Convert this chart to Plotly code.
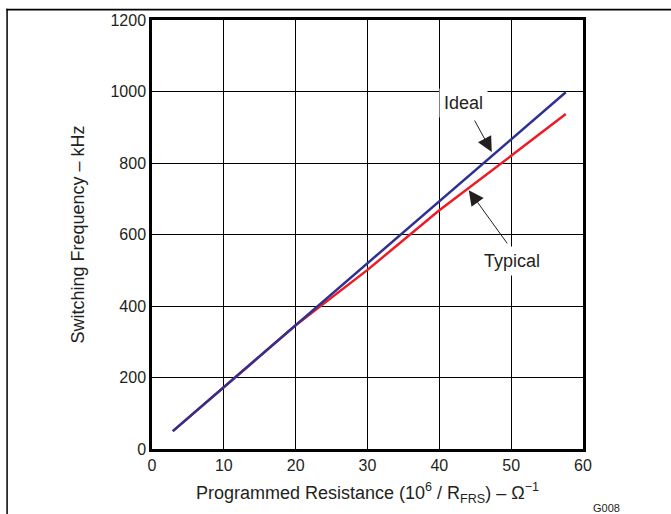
import plotly.graph_objects as go

# Data
x_ideal = [2.9, 57.6]
y_ideal = [50, 998]
x_typical = [2.9, 10, 20, 30, 40, 50, 57.6]
y_typical = [50, 173, 346, 501, 668, 820, 937]

x_ticks = [0, 10, 20, 30, 40, 50, 60]
y_ticks = [0, 200, 400, 600, 800, 1000, 1200]

FONT = "Liberation Sans, Arial, Helvetica, sans-serif"
TXT = "#231F20"

fig = go.Figure()
fig.add_trace(go.Scatter(x=x_typical, y=y_typical, mode="lines",
                         line=dict(color="#ED1C24", width=2.5), showlegend=False))
fig.add_trace(go.Scatter(x=x_ideal, y=y_ideal, mode="lines",
                         line=dict(color="#2E3192", width=2.5), showlegend=False))

axis_common = dict(showgrid=True, gridcolor="black", gridwidth=1,
                   showline=True, linecolor="black", linewidth=2.5, mirror=True,
                   ticks="", zeroline=False,
                   tickfont=dict(family=FONT, size=16, color=TXT))

fig.update_xaxes(range=[0, 60], tickvals=x_ticks, **axis_common,
                 title=dict(text="Programmed Resistance (10<sup>6</sup> / R<sub>FRS</sub>) – Ω<sup>−1</sup>",
                            font=dict(family=FONT, size=18, color=TXT), standoff=14))
fig.update_yaxes(range=[0, 1200], tickvals=y_ticks, **axis_common,
                 title=dict(text="Switching Frequency – kHz",
                            font=dict(family=FONT, size=18, color=TXT), standoff=22))

# Text labels with white background (break the grid)
fig.add_annotation(x=43.3, y=968, text="Ideal", showarrow=False, bgcolor="white",
                   font=dict(family=FONT, size=18, color=TXT), borderpad=4)
fig.add_annotation(x=50.1, y=526, text="Typical", showarrow=False, bgcolor="white",
                   font=dict(family=FONT, size=18, color=TXT), borderpad=4)
# Arrows
fig.add_annotation(x=47.3, y=831, ax=44.8, ay=923, axref="x", ayref="y", text="",
                   showarrow=True, arrowhead=2, arrowsize=3, arrowwidth=1,
                   arrowcolor=TXT, standoff=0)
fig.add_annotation(x=44.1, y=724, ax=49.6, ay=571, axref="x", ayref="y", text="",
                   showarrow=True, arrowhead=2, arrowsize=3, arrowwidth=1,
                   arrowcolor=TXT, standoff=0)

fig.add_annotation(x=1.055, y=-0.137, xref="paper", yref="paper", text="G008",
                   showarrow=False, xanchor="center", yanchor="middle",
                   font=dict(family=FONT, size=11, color=TXT))

# Frame around the figure: left edge and top edge as thin filled bars
fig.add_shape(type="rect", xref="paper", yref="paper",
              x0=-0.338, x1=-0.3345, y0=-0.2, y1=1.026,
              line=dict(width=0), fillcolor="black", layer="above")
fig.add_shape(type="rect", xref="paper", yref="paper",
              x0=-0.338, x1=1.3, y0=1.022, y1=1.026,
              line=dict(width=0), fillcolor="black", layer="above")

fig.update_layout(width=671, height=514, margin=dict(l=152, r=88, t=20, b=65),
                  paper_bgcolor="white", plot_bgcolor="white",
                  font=dict(family=FONT, color=TXT))

fig.write_html("out.html", config={"displayModeBar": False},
               post_script="document.body.style.margin='0';document.body.style.overflow='hidden';")
